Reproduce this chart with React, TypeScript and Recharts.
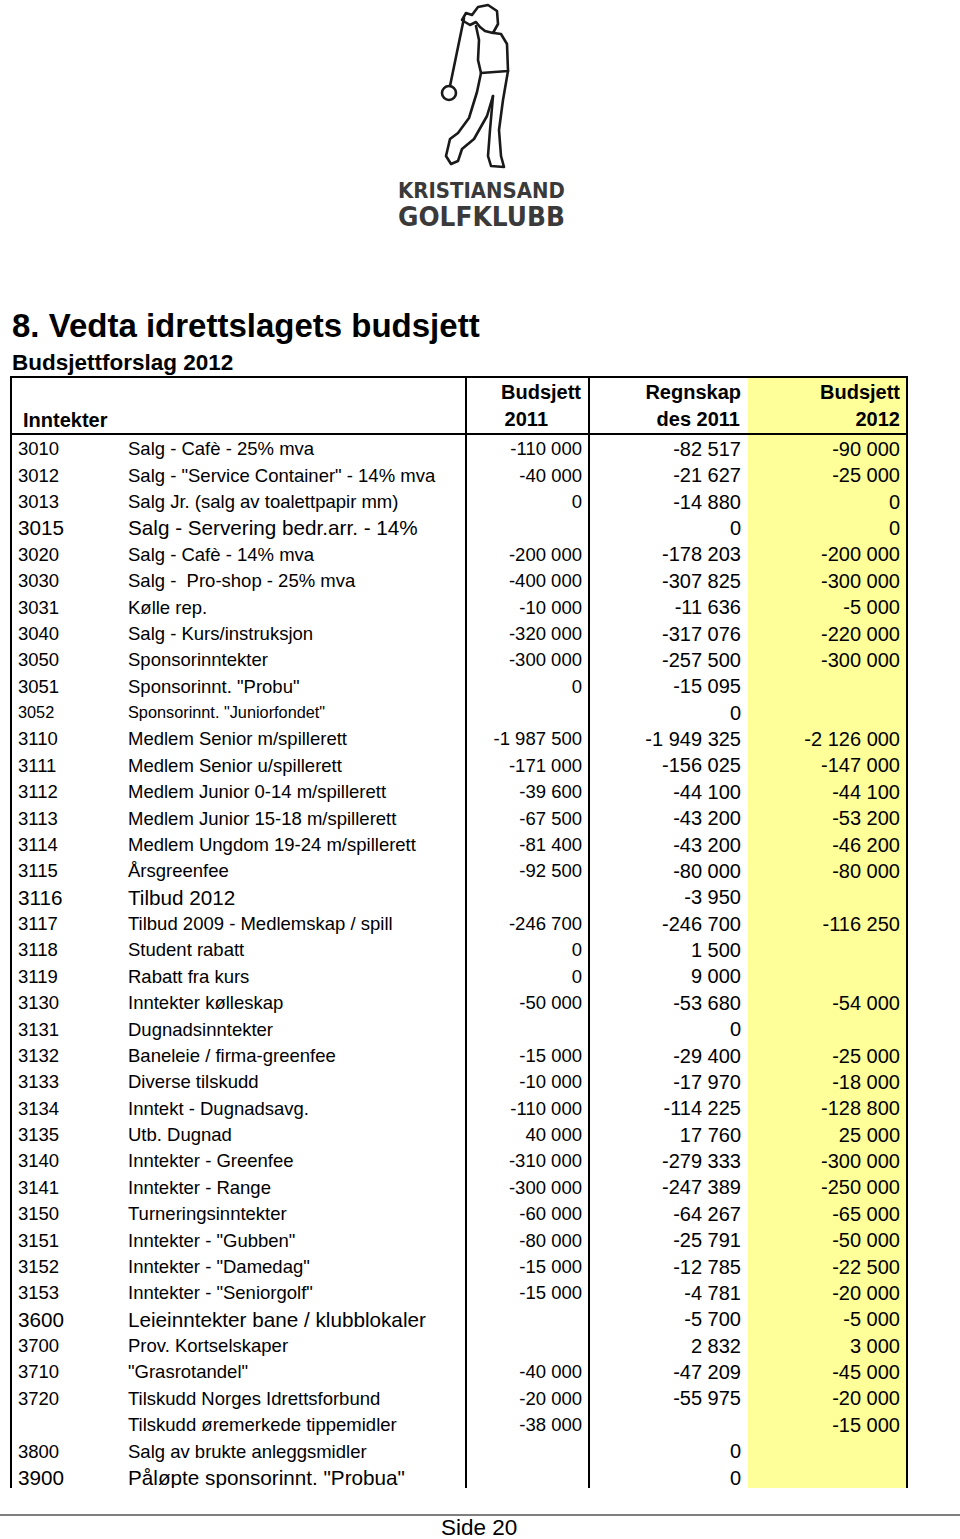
import { BarChart, Bar, XAxis, YAxis } from "recharts";

const codes = [
  "3010", "3012", "3013", "3015", "3020", "3030", "3031", "3040", "3050", "3051",
  "3052", "3110", "3111", "3112", "3113", "3114", "3115", "3116", "3117", "3118",
  "3119", "3130", "3131", "3132", "3133", "3134", "3135", "3140", "3141", "3150",
  "3151", "3152", "3153", "3600", "3700", "3710", "3720", "", "3800", "3900",
];

const descriptions = [
  "Salg - Cafè - 25% mva",
  "Salg - \"Service Container\" - 14% mva",
  "Salg Jr. (salg av toalettpapir mm)",
  "Salg - Servering bedr.arr. - 14%",
  "Salg - Cafè - 14% mva",
  "Salg -  Pro-shop - 25% mva",
  "Kølle rep.",
  "Salg - Kurs/instruksjon",
  "Sponsorinntekter",
  "Sponsorinnt. \"Probu\"",
  "Sponsorinnt. \"Juniorfondet\"",
  "Medlem Senior m/spillerett",
  "Medlem Senior u/spillerett",
  "Medlem Junior 0-14 m/spillerett",
  "Medlem Junior 15-18 m/spillerett",
  "Medlem Ungdom 19-24 m/spillerett",
  "Årsgreenfee",
  "Tilbud 2012",
  "Tilbud 2009 - Medlemskap / spill",
  "Student rabatt",
  "Rabatt fra kurs",
  "Inntekter kølleskap",
  "Dugnadsinntekter",
  "Baneleie / firma-greenfee",
  "Diverse tilskudd",
  "Inntekt - Dugnadsavg.",
  "Utb. Dugnad",
  "Inntekter - Greenfee",
  "Inntekter - Range",
  "Turneringsinntekter",
  "Inntekter - \"Gubben\"",
  "Inntekter - \"Damedag\"",
  "Inntekter - \"Seniorgolf\"",
  "Leieinntekter bane / klubblokaler",
  "Prov. Kortselskaper",
  "\"Grasrotandel\"",
  "Tilskudd Norges Idrettsforbund",
  "Tilskudd øremerkede tippemidler",
  "Salg av brukte anleggsmidler",
  "Påløpte sponsorinnt. \"Probua\"",
];

const budget2011: (number | null)[] = [
  -110000, -40000, 0, null, -200000, -400000, -10000, -320000, -300000, 0,
  null, -1987500, -171000, -39600, -67500, -81400, -92500, null, -246700, 0,
  0, -50000, null, -15000, -10000, -110000, 40000, -310000, -300000, -60000,
  -80000, -15000, -15000, null, null, -40000, -20000, -38000, null, null,
];

const actual2011: (number | null)[] = [
  -82517, -21627, -14880, 0, -178203, -307825, -11636, -317076, -257500, -15095,
  0, -1949325, -156025, -44100, -43200, -43200, -80000, -3950, -246700, 1500,
  9000, -53680, 0, -29400, -17970, -114225, 17760, -279333, -247389, -64267,
  -25791, -12785, -4781, -5700, 2832, -47209, -55975, null, 0, 0,
];

const budget2012: (number | null)[] = [
  -90000, -25000, 0, 0, -200000, -300000, -5000, -220000, -300000, null,
  null, -2126000, -147000, -44100, -53200, -46200, -80000, null, -116250, null,
  null, -54000, null, -25000, -18000, -128800, 25000, -300000, -250000, -65000,
  -50000, -22500, -20000, -5000, 3000, -45000, -20000, -15000, null, null,
];

const rows = codes.map((code, i) => ({
  id: String(i),
  code,
  b2012: budget2012[i] ?? 0,
}));

// rows that were typed in a bigger / smaller font in the sheet
const LARGE_ROWS = ["3015", "3116", "3600", "3900"];
const SMALL_ROWS = ["3052"];

const FONT = "'Liberation Sans', Arial, sans-serif";

function fmt(v: number | null) {
  if (v === null || v === undefined) return "";
  const s = Math.abs(v).toString().replace(/\B(?=(\d{3})+(?!\d))/g, " ");
  return (v < 0 ? "-" : "") + s;
}

function RowTick(props: any) {
  const { y, payload } = props;
  const i = parseInt(payload.value, 10);
  const code = codes[i];
  const large = LARGE_ROWS.includes(code);
  const small = SMALL_ROWS.includes(code);
  const textSize = large ? 20.7 : small ? 16.3 : 18.5;
  const col1Size = 18.5;
  const numSize = 20;
  const base = (fs: number) => y + 2.5 + fs * 0.36;
  return (
    <g fontFamily={FONT} fill="#000">
      <text x={8} y={base(textSize)} fontSize={textSize}>
        {code}
      </text>
      <text x={118} y={base(textSize)} fontSize={textSize} style={{ whiteSpace: "pre" }}>
        {descriptions[i]}
      </text>
      <text x={572} y={base(col1Size)} fontSize={col1Size} textAnchor="end">
        {fmt(budget2011[i])}
      </text>
      <text x={731} y={base(numSize)} fontSize={numSize} textAnchor="end">
        {fmt(actual2011[i])}
      </text>
      <text x={890} y={base(numSize)} fontSize={numSize} textAnchor="end">
        {fmt(budget2012[i])}
      </text>
    </g>
  );
}

function Logo() {
  return (
    <g>
      <g fill="none" stroke="#1a1a1a" strokeWidth={2.6} strokeLinejoin="round" strokeLinecap="round">
        <line x1={464} y1={18} x2={450} y2={86} />
        <circle cx={449} cy={93} r={7} />
        <path d="M462 20 L466 13 L472 15 L478 7 L488 5 L497 11 L498 24 L493 33 L485 31 L480 27 L476 22 L470 25 L465 22 Z" />
        <path d="M476 26 L479 40 L478 60 L481 73 L508 71 L507 44 L501 34 L494 33" />
        <path d="M481 73 L477 92 L469 118 L458 133 L450 139 L446 156 L451 164 L458 161 L462 149 L474 139 L487 116 L493 96" />
        <path d="M493 96 L490 130 L488 156 L491 166 L504 167 L501 156 L499 130 L503 100 L508 71" />
      </g>
      <text
        x={398}
        y={198}
        fontFamily="'DejaVu Sans', sans-serif"
        fontWeight="bold"
        fontSize={21}
        fill="#3a3a3a"
        textLength={167}
        lengthAdjust="spacingAndGlyphs"
      >
        KRISTIANSAND
      </text>
      <text
        x={398}
        y={226}
        fontFamily="'DejaVu Sans', sans-serif"
        fontWeight="bold"
        fontSize={26.5}
        fill="#3a3a3a"
        textLength={167}
        lengthAdjust="spacingAndGlyphs"
      >
        GOLFKLUBB
      </text>
    </g>
  );
}

export default function App() {
  return (
    <div style={{ position: "absolute", left: 0, top: 0, width: 960, height: 1539, background: "#fff" }}>
      <svg width={960} height={1539} style={{ position: "absolute", left: 0, top: 0 }}>
        <Logo />
        <g fontFamily={FONT} fill="#000" fontWeight="bold">
          <text x={12} y={337} fontSize={33}>8. Vedta idrettslagets budsjett</text>
          <text x={12} y={370} fontSize={22.5}>Budsjettforslag 2012</text>
        </g>
        <rect x={748} y={378} width={158} height={1110} fill="#ffff99" />
        <g fontFamily={FONT} fill="#000" fontWeight="bold" fontSize={20}>
          <text x={23} y={427}>Inntekter</text>
          <text x={581} y={399} textAnchor="end">Budsjett</text>
          <text x={548} y={426} textAnchor="end">2011</text>
          <text x={741} y={399} textAnchor="end">Regnskap</text>
          <text x={740} y={426} textAnchor="end">des 2011</text>
          <text x={900} y={399} textAnchor="end">Budsjett</text>
          <text x={900} y={426} textAnchor="end">2012</text>
        </g>
        <g stroke="#000" strokeWidth={2}>
          <line x1={10} y1={377} x2={907} y2={377} />
          <line x1={10} y1={434} x2={907} y2={434} />
          <line x1={11} y1={376} x2={11} y2={1488} />
          <line x1={466} y1={376} x2={466} y2={1488} />
          <line x1={589} y1={376} x2={589} y2={1488} />
          <line x1={907} y1={376} x2={907} y2={1488} />
        </g>
        <line x1={0} y1={1515} x2={960} y2={1515} stroke="#555" strokeWidth={1.5} />
        <text x={441} y={1535} fontFamily={FONT} fontSize={22.5} fill="#000">Side 20</text>
      </svg>
      <div style={{ position: "absolute", left: 10, top: 377 }}>
        <BarChart
          layout="vertical"
          width={897}
          height={1111}
          data={rows}
          margin={{ top: 56, right: 0, bottom: 0, left: 0 }}
          barCategoryGap={0}
        >
          <XAxis type="number" hide />
          <YAxis
            type="category"
            dataKey="id"
            width={1}
            interval={0}
            axisLine={false}
            tickLine={false}
            tick={(p: any) => <RowTick {...p} />}
          />
          <Bar dataKey="b2012" fill="#000" fillOpacity={0} isAnimationActive={false} />
        </BarChart>
      </div>
    </div>
  );
}
